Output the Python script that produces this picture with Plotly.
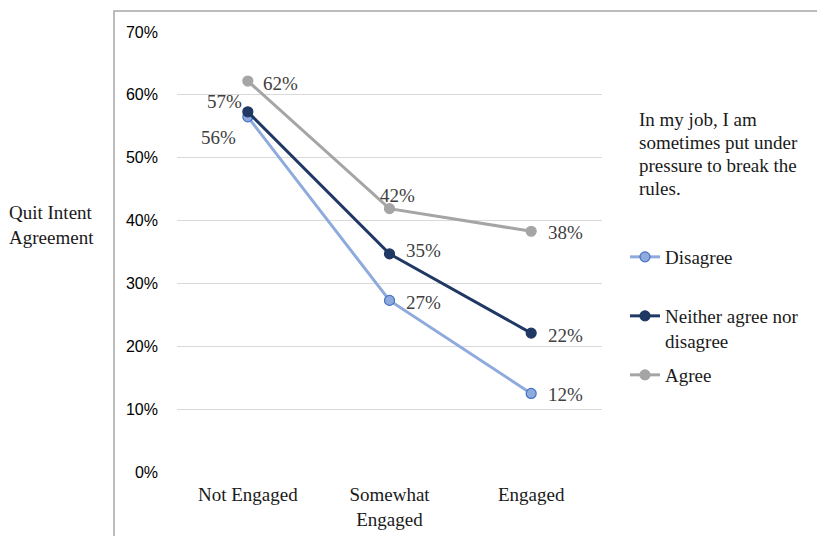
import plotly.graph_objects as go

categories = ["Not Engaged", "Somewhat<br>Engaged", "Engaged"]
disagree = [0.565, 0.273, 0.125]
neither = [0.573, 0.347, 0.221]
agree = [0.622, 0.419, 0.383]
series_names = ["Disagree", "Neither agree nor<br>disagree", "Agree"]
legend_title_lines = ["In my job, I am", "sometimes put under", "pressure to break the", "rules."]
y_ticks = [0, 0.1, 0.2, 0.3, 0.4, 0.5, 0.6, 0.7]
y_title = "Quit Intent<br>Agreement"

W, H = 817, 536
ML, MR, MT, MB = 177, 215, 32, 64
PW, PH = W - ML - MR, H - MT - MB

def px_x(p):
    return (p - ML) / PW

def px_y(p):
    return (H - MB - p) / PH

serif = "Liberation Serif"
lbl_color = "#404040"

series = [
    dict(vals=disagree, name=series_names[0], line="#8FAADC", mfill="#8FAADC", mline="#4472C4",
         legend="legend", offs=[(-29, -21), (34, -2), (34, -1)]),
    dict(vals=neither, name=series_names[1], line="#1F3864", mfill="#1F3864", mline="#1F3864",
         legend="legend2", offs=[(-23, 10), (34, 3), (34, -2)]),
    dict(vals=agree, name=series_names[2], line="#A5A5A5", mfill="#A5A5A5", mline="#A5A5A5",
         legend="legend3", offs=[(33, -2), (8, 13), (34, -1)]),
]

fig = go.Figure()
annotations = []
for s in series:
    fig.add_trace(go.Scatter(
        x=categories, y=s["vals"], name=s["name"], mode="lines+markers",
        line=dict(color=s["line"], width=3),
        marker=dict(size=10, color=s["mfill"], line=dict(color=s["mline"], width=1.2)),
        legend=s["legend"], hoverinfo="skip",
    ))
    for c, v, (dx, dy) in zip(categories, s["vals"], s["offs"]):
        annotations.append(dict(
            x=c, y=v, xref="x", yref="y", text=f"{round(v*100):.0f}%",
            showarrow=False, xshift=dx, yshift=dy,
            font=dict(family=serif, size=19, color=lbl_color),
        ))

# Legend title lines
for i, line in enumerate(legend_title_lines):
    annotations.append(dict(
        x=px_x(637), y=px_y(120 + i * 22.7), xref="paper", yref="paper",
        text=line, showarrow=False, xanchor="left", yanchor="middle",
        font=dict(family=serif, size=19, color="#1a1a1a"),
    ))

# Y axis title
annotations.append(dict(
    x=px_x(7), y=px_y(225), xref="paper", yref="paper", text=y_title,
    showarrow=False, xanchor="left", yanchor="middle", align="left",
    font=dict(family=serif, size=19, color="#1a1a1a"),
))

leg_font = dict(family=serif, size=19, color="#1a1a1a")

fig.update_layout(
    width=W, height=H,
    margin=dict(l=ML, r=MR, t=MT, b=MB, autoexpand=False),
    paper_bgcolor="white", plot_bgcolor="white",
    showlegend=True,
    legend=dict(x=px_x(625), y=px_y(257), xanchor="left", yanchor="middle",
                font=leg_font, bgcolor="rgba(0,0,0,0)"),
    legend2=dict(x=px_x(625), y=px_y(297), xanchor="left", yanchor="top", valign="top",
                 font=leg_font, bgcolor="rgba(0,0,0,0)"),
    legend3=dict(x=px_x(625), y=px_y(375), xanchor="left", yanchor="middle",
                 font=leg_font, bgcolor="rgba(0,0,0,0)"),
    xaxis=dict(type="category", range=[-0.5, 2.5], showgrid=False, zeroline=False,
               showline=False, ticks="", ticklabelstandoff=9, automargin=False,
               tickfont=dict(family=serif, size=19, color="#1a1a1a")),
    yaxis=dict(range=[0, 0.7], tickvals=y_ticks, tickformat=".0%", automargin=False,
               showgrid=True, gridcolor="#D9D9D9", gridwidth=1, zeroline=False,
               showline=False, ticks="", ticklabelstandoff=18,
               tickfont=dict(family="Liberation Sans", size=16, color="#000000")),
    annotations=annotations,
    shapes=[dict(type="rect", xref="paper", yref="paper",
                 x0=px_x(114), x1=px_x(830), y0=px_y(550), y1=px_y(11),
                 line=dict(color="#A6A6A6", width=1.5), fillcolor="rgba(0,0,0,0)",
                 layer="below")],
)

fig.write_html("out.html")
